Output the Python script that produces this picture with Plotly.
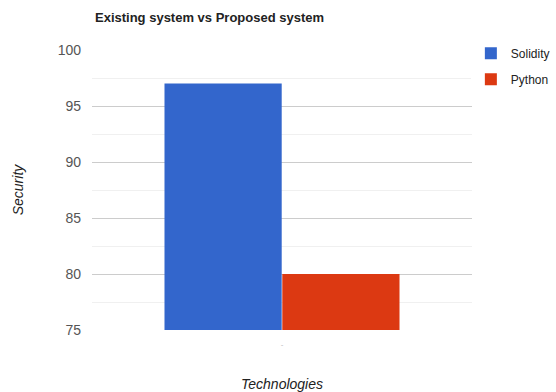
import plotly.graph_objects as go

categories = ["-"]
series_names = ["Solidity", "Python"]
solidity_values = [97]
python_values = [80]
colors = ["#3366cc", "#dc3912"]

fig = go.Figure()
fig.add_trace(go.Bar(x=categories, y=solidity_values, name=series_names[0], legendgroup="a",
                     marker=dict(color=colors[0], line=dict(width=0))))
fig.add_trace(go.Bar(x=categories, y=python_values, name=series_names[1], legendgroup="b",
                     marker=dict(color=colors[1], line=dict(width=0))))

fig.update_layout(
    width=556, height=392,
    margin=dict(l=92, r=84, t=50, b=62, autoexpand=False),
    paper_bgcolor="white", plot_bgcolor="white",
    barmode="group", bargap=0.38, bargroupgap=0.005,
    font=dict(family="Arial, Liberation Sans, sans-serif", size=13, color="#444"),
    title=dict(text="<b>Existing system vs Proposed system</b>", x=95/556, xanchor="left",
               y=1 - 17/392, yanchor="middle", font=dict(size=13, color="#222")),
    legend=dict(x=0.997, y=1.04, xanchor="left", yanchor="top", traceorder="grouped",
                font=dict(size=12, color="#222"), tracegroupgap=7, itemwidth=30),
    xaxis=dict(showgrid=False, showline=False, ticks="",
               tickfont=dict(size=8, color="#bbb"), ticklabelstandoff=8,
               title=dict(text="<i>Technologies</i>", font=dict(size=14, color="#222"), standoff=36)),
    yaxis=dict(range=[75, 100], dtick=5, showgrid=True, gridcolor="#cccccc", gridwidth=1,
               zeroline=False, showline=False, ticks="",
               minor=dict(dtick=2.5, showgrid=True, gridcolor="#f0f0f0"),
               tickfont=dict(size=14, color="#555"), ticklabelstandoff=10,
               title=dict(text="<i>Security</i>", font=dict(size=14, color="#222"), standoff=30)),
)

fig.write_html("out.html", config={"displayModeBar": False},
               post_script="document.body.style.margin='0';")
